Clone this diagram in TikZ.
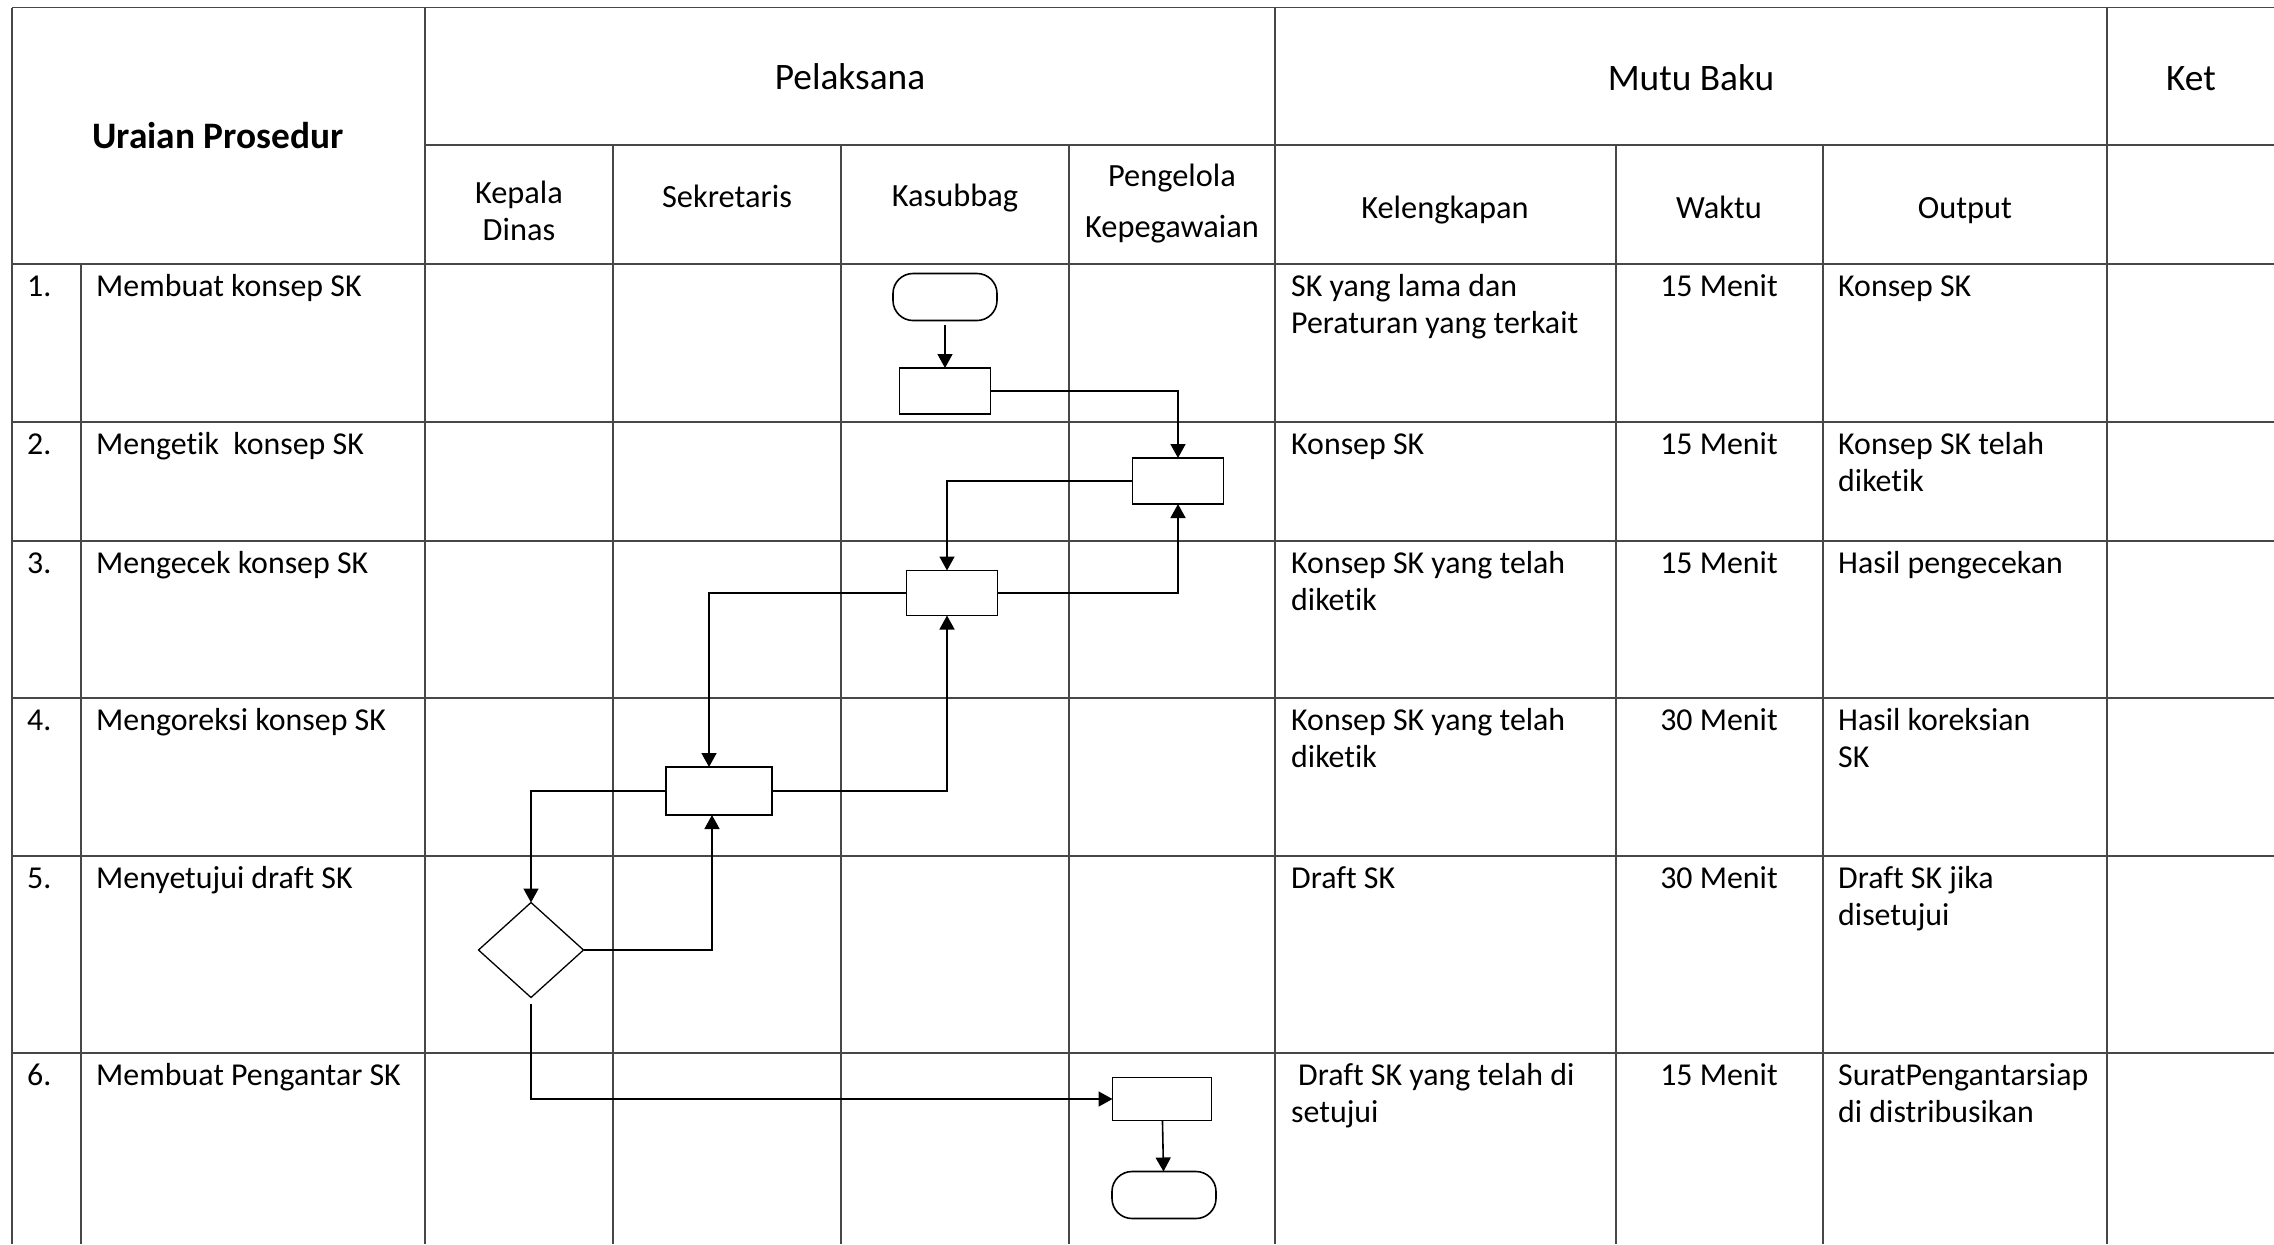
\documentclass[tikz,border=0pt]{standalone}
\usepackage{fontspec}
\setmainfont{Carlito}[Ligatures=NoCommon]
\usetikzlibrary{arrows.meta,shapes.geometric,calc}
\newcommand\bodyfont{\fontsize{32}{37.5}\selectfont}
\newcommand\headfont{\fontsize{37.5}{42}\selectfont}
\newcommand\subfont{\fontsize{32.5}{38}\selectfont}
\newcommand\lcell[1]{\begin{tabular}[t]{@{}l@{}}#1\end{tabular}}
\newcommand\ccell[1]{\begin{tabular}[t]{@{}c@{}}#1\end{tabular}}
\begin{document}
\begin{tikzpicture}[x=1bp,y=-1bp,
  grid/.style={draw=black!72, line width=1.4bp},
  proc/.style={draw, line width=1.6bp, minimum width=91bp, minimum height=46bp, inner sep=0pt, outer sep=0pt},
  term/.style={draw, line width=1.6bp, rounded corners=20bp, minimum width=104bp, minimum height=47bp, inner sep=0pt, outer sep=0pt},
  dec/.style={draw, diamond, line width=1.3bp, minimum width=105bp, minimum height=95bp, inner sep=0pt, outer sep=0pt},
  flow/.style={line width=1.6bp, -{Triangle[length=14bp,width=15bp]}},
  txt/.style={inner sep=0pt, anchor=base west, font=\bodyfont},
  ctxt/.style={inner sep=0pt, anchor=base, font=\bodyfont},
  htxt/.style={inner sep=0pt, anchor=base, font=\headfont},
  stxt/.style={inner sep=0pt, anchor=base, font=\subfont}]
\useasboundingbox (0,0) rectangle (2274,1244);
% ---------- grid ----------
\draw[grid] (12,7.5) -- (2274,7.5);
\draw[grid] (425,145) -- (2274,145);
\foreach \yy in {264,422,541,698,856,1053} \draw[grid] (12,\yy) -- (2274,\yy);
\foreach \xx in {12,425,1275,2107} \draw[grid] (\xx,7.5) -- (\xx,1244);
\foreach \xx in {613,841,1069,1616,1823} \draw[grid] (\xx,145) -- (\xx,1244);
\draw[grid] (81,264) -- (81,1244);
% ---------- header ----------
\node[htxt, font=\headfont\bfseries] (hUraian) at (218,148) {Uraian Prosedur};
\node[htxt] (hPel) at (850,89) {Pelaksana};
\node[htxt] (hMutu) at (1691,90) {Mutu Baku};
\node[htxt] (hKet) at (2191,90) {Ket};
\node[stxt] (hKD) at (519,203) {\ccell{Kepala\\Dinas}};
\node[stxt] (hSek) at (727,207) {Sekretaris};
\node[stxt] (hKas) at (955,206) {Kasubbag};
\node[stxt, font=\fontsize{32.5}{52}\selectfont] (hPK) at (1172,186) {\ccell{Pengelola\\Kepegawaian}};
\node[stxt] (hKel) at (1445,218) {Kelengkapan};
\node[stxt] (hWak) at (1719,218) {Waktu};
\node[stxt] (hOut) at (1965,218) {Output};
% ---------- rows ----------
\node[txt] (n1) at (27,296.5) {1.};
\node[txt] (d1) at (96,296.5) {Membuat konsep SK};
\node[txt] (k1) at (1291,296.5) {\lcell{SK yang lama dan\\Peraturan yang terkait}};
\node[ctxt] (w1) at (1719,296.5) {15 Menit};
\node[txt] (o1) at (1838,296.5) {Konsep SK};

\node[txt] (n2) at (27,454.5) {2.};
\node[txt] (d2) at (96,454.5) {Mengetik\ \ konsep SK};
\node[txt] (k2) at (1291,454.5) {Konsep SK};
\node[ctxt] (w2) at (1719,454.5) {15 Menit};
\node[txt] (o2) at (1838,454.5) {\lcell{Konsep SK telah\\diketik}};

\node[txt] (n3) at (27,573.5) {3.};
\node[txt] (d3) at (96,573.5) {Mengecek konsep SK};
\node[txt] (k3) at (1291,573.5) {\lcell{Konsep SK yang telah\\diketik}};
\node[ctxt] (w3) at (1719,573.5) {15 Menit};
\node[txt] (o3) at (1838,573.5) {Hasil pengecekan};

\node[txt] (n4) at (27,730.5) {4.};
\node[txt] (d4) at (96,730.5) {Mengoreksi konsep SK};
\node[txt] (k4) at (1291,730.5) {\lcell{Konsep SK yang telah\\diketik}};
\node[ctxt] (w4) at (1719,730.5) {30 Menit};
\node[txt] (o4) at (1838,730.5) {\lcell{Hasil koreksian\\SK}};

\node[txt] (n5) at (27,888.5) {5.};
\node[txt] (d5) at (96,888.5) {Menyetujui draft SK};
\node[txt] (k5) at (1291,888.5) {Draft SK};
\node[ctxt] (w5) at (1719,888.5) {30 Menit};
\node[txt] (o5) at (1838,888.5) {\lcell{Draft SK jika\\disetujui}};

\node[txt] (n6) at (27,1085.5) {6.};
\node[txt] (d6) at (96,1085.5) {Membuat Pengantar SK};
\node[txt] (k6) at (1291,1085.5) {\lcell{\hspace{7bp}Draft SK yang telah di\\setujui}};
\node[ctxt] (w6) at (1719,1085.5) {15 Menit};
\node[txt] (o6) at (1838,1085.5) {\lcell{SuratPengantarsiap\\di distribusikan}};
% ---------- flow shapes ----------
\node[term] (start) at (945,297) {};
\node[proc] (r1) at (945,391) {};
\node[proc] (r2) at (1178,481) {};
\node[proc, minimum height=45bp] (r3) at (952,593) {};
\node[proc, minimum width=106bp, minimum height=48bp] (r4) at (719,791) {};
\node[dec] (dc) at (531,950) {};
\node[proc, minimum width=99bp, minimum height=43bp] (r5) at (1162,1099) {};
\node[term] (stop) at (1164,1195) {};
% ---------- connectors ----------
\draw[flow, shorten <=4bp] (start) -- (r1);
\draw[flow] (r1.east) -| (r2.north);
\draw[flow] (r2.west) -| ([xshift=-5bp]r3.north);
\draw[flow] (r3.east) -| (r2.south);
\draw[flow] (r3.west) -| ([xshift=-10bp]r4.north);
\draw[flow] (r4.east) -| ([xshift=-5bp]r3.south);
\draw[flow] (r4.west) -| (dc.north);
\draw[flow] (dc.east) -| ([xshift=-7bp]r4.south);
\draw[flow, shorten <=6bp] (dc.south) |- (r5.west);
\draw[flow] (r5) -- (stop);
\end{tikzpicture}
\end{document}
